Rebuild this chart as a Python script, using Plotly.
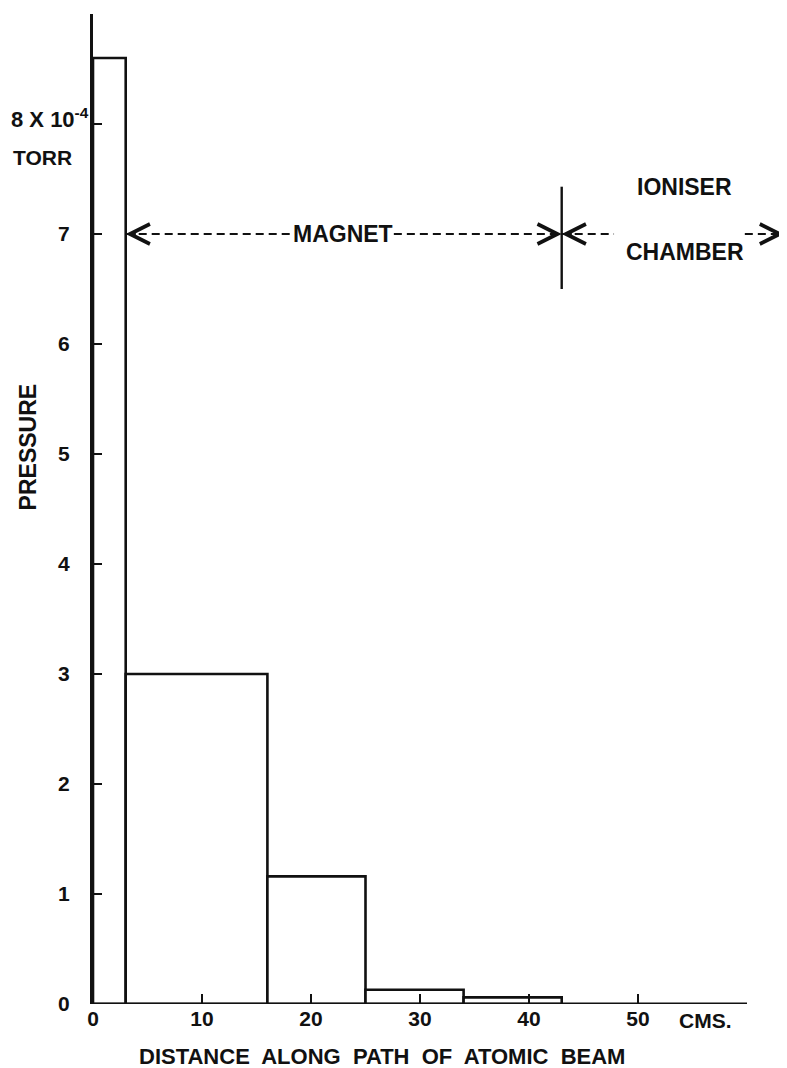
import plotly.graph_objects as go

# ---- data ----
bin_edges = [0, 3, 16, 25, 34, 43]          # cm along beam path
pressures = [8.6, 3.0, 1.16, 0.13, 0.06]    # x 10^-4 torr

x_tickvals = [0, 10, 20, 30, 40, 50]
x_ticktext = ["0", "10", "20", "30", "40", "50"]
y_tickvals = [0, 1, 2, 3, 4, 5, 6, 7, 8]
y_ticktext = ["0", "1", "2", "3", "4", "5", "6", "7", ""]

magnet_start = 3
magnet_end = 43
marker_level = 7
axis_end = 60

FONT = "Liberation Sans, Arial, sans-serif"
INK = "#111111"

centers = [(a + b) / 2 for a, b in zip(bin_edges[:-1], bin_edges[1:])]
widths = [b - a for a, b in zip(bin_edges[:-1], bin_edges[1:])]

fig = go.Figure()
fig.add_trace(go.Bar(
    x=centers, y=pressures, width=widths,
    marker=dict(color="white", line=dict(color=INK, width=2.6)),
    showlegend=False, hoverinfo="skip",
))

shapes = []
# x axis line (stops at 60 cm)
shapes.append(dict(type="line", xref="x", yref="y", x0=0, x1=axis_end, y0=0, y1=0,
                   line=dict(color=INK, width=3)))
# dashed arrows (broken by the labels)
dash = "8px,5px"
for x0, x1 in [(magnet_start, 18.2), (27.6, magnet_end), (magnet_end, 47.8), (59.8, 63.4)]:
    shapes.append(dict(type="line", xref="x", yref="y", x0=x0, x1=x1,
                       y0=marker_level, y1=marker_level,
                       line=dict(color=INK, width=2, dash=dash)))
# vertical divider at end of magnet
shapes.append(dict(type="line", xref="x", yref="y", x0=magnet_end, x1=magnet_end,
                   y0=6.5, y1=7.43, line=dict(color=INK, width=2.4)))

ann = []
def chevron(tip, tail):
    ann.append(dict(x=tip, y=marker_level, ax=tail, ay=marker_level,
                    xref="x", yref="y", axref="x", ayref="y",
                    showarrow=True, arrowhead=5, arrowsize=1.7, arrowwidth=2.3,
                    arrowcolor=INK, text="", standoff=0))

chevron(magnet_start, magnet_start + 1.0)
chevron(magnet_end, magnet_end - 1.0)
chevron(magnet_end, magnet_end + 1.0)
chevron(63.4, 62.4)

txt = dict(family=FONT, size=23, color=INK)
ann.append(dict(x=22.9, y=marker_level, xref="x", yref="y", text="<b>MAGNET</b>",
                showarrow=False, font=txt, xanchor="center", yanchor="middle"))
ann.append(dict(x=54.3, y=7.43, xref="x", yref="y", text="<b>IONISER</b>",
                showarrow=False, font=txt, xanchor="center", yanchor="middle"))
ann.append(dict(x=54.3, y=6.84, xref="x", yref="y", text="<b>CHAMBER</b>",
                showarrow=False, font=txt, xanchor="center", yanchor="middle"))
# y label at 8 and unit
ann.append(dict(x=0, y=8, xref="paper", yref="y", xanchor="left", yanchor="middle",
                xshift=-84, yshift=6, text="<b>8 X 10<sup>-4</sup></b>",
                showarrow=False, font=dict(family=FONT, size=22, color=INK)))
ann.append(dict(x=0, y=7.7, xref="paper", yref="y", xanchor="left", yanchor="middle",
                xshift=-82, text="<b>TORR</b>",
                showarrow=False, font=dict(family=FONT, size=21, color=INK)))
# axis titles
ann.append(dict(x=0, y=5.06, xref="paper", yref="y", xanchor="center", yanchor="middle",
                xshift=-65, textangle=-90, text="<b>PRESSURE</b>",
                showarrow=False, font=txt))
ann.append(dict(x=26.5, y=0, xref="x", yref="paper", xanchor="center", yanchor="middle",
                yshift=-52, text="<b>DISTANCE  ALONG  PATH  OF  ATOMIC  BEAM</b>",
                showarrow=False, font=dict(family=FONT, size=22, color=INK)))
ann.append(dict(x=56.2, y=0, xref="x", yref="paper", xanchor="center", yanchor="middle",
                yshift=-16, text="<b>CMS.</b>",
                showarrow=False, font=dict(family=FONT, size=21, color=INK)))

# page body adds an 8px offset; margins compensate so the plot lands where the reference has it
fig.update_layout(
    width=779, height=1060,
    margin=dict(l=85, r=0, t=6, b=64),
    paper_bgcolor="white", plot_bgcolor="white",
    shapes=shapes, annotations=ann,
    showlegend=False,
    xaxis=dict(range=[0, 63.67], showgrid=False, zeroline=False, showline=False,
               ticks="inside", ticklen=10, tickwidth=2, tickcolor=INK,
               tickvals=x_tickvals, ticktext=x_ticktext,
               tickfont=dict(family=FONT, size=21, color=INK, weight="bold"),
               fixedrange=True),
    yaxis=dict(range=[0, 9], showgrid=False, zeroline=False, showline=True,
               linecolor=INK, linewidth=3,
               ticks="inside", ticklen=9, tickwidth=2, tickcolor=INK,
               tickvals=y_tickvals, ticktext=y_ticktext,
               tickfont=dict(family=FONT, size=21, color=INK, weight="bold"),
               ticklabelstandoff=16, fixedrange=True),
)

fig.write_html("out.html", config={"displayModeBar": False})
